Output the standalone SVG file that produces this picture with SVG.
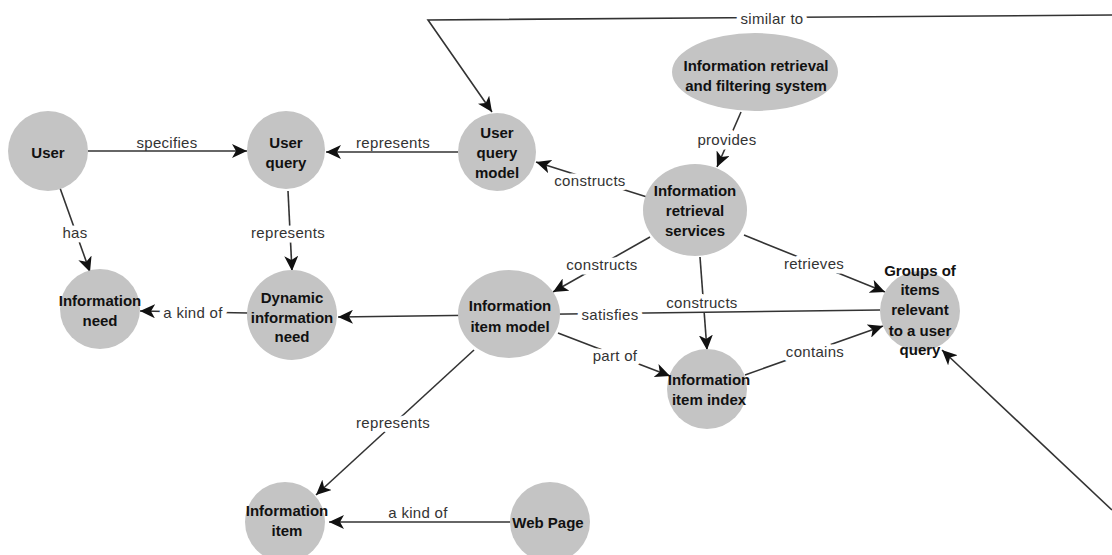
<svg xmlns="http://www.w3.org/2000/svg" width="1112" height="555" viewBox="0 0 1112 555">
<style>
.n{fill:#c4c4c4;stroke:none}
.t{font-family:"Liberation Sans",Arial,sans-serif;font-weight:bold;font-size:15px;fill:#111;text-anchor:middle;dominant-baseline:central}
.e{fill:none;stroke:#333;stroke-width:1.6}
.l{font-family:"Liberation Sans",Arial,sans-serif;font-size:15px;letter-spacing:0.3px;fill:#333;text-anchor:middle;dominant-baseline:central}
.h{stroke:#fff;stroke-width:9px;paint-order:stroke;stroke-linejoin:round}
</style>
<defs>
<marker id="a" markerUnits="userSpaceOnUse" markerWidth="16" markerHeight="14" viewBox="0 0 16 14" refX="15" refY="7" orient="auto">
<path d="M0,0 L15,7 L0,14 L4,7 z" fill="#111"/>
</marker>
</defs>
<rect width="1112" height="555" fill="#fff"/>
<g id="connectors">
<line class="e" x1="88" y1="151" x2="247" y2="151" marker-end="url(#a)"/>
<text class="l" x="167" y="142">specifies</text>
<line class="e" x1="60" y1="188" x2="90" y2="272" marker-end="url(#a)"/>
<text class="l h" x="75" y="232">has</text>
<line class="e" x1="458" y1="152" x2="326" y2="152" marker-end="url(#a)"/>
<text class="l" x="393" y="142">represents</text>
<line class="e" x1="288" y1="191" x2="292" y2="271" marker-end="url(#a)"/>
<text class="l h" x="288" y="232">represents</text>
<line class="e" x1="248" y1="313" x2="140" y2="311" marker-end="url(#a)"/>
<text class="l h" x="193" y="312">a kind of</text>
<polyline class="e" points="1112,15 428,20 492,112" marker-end="url(#a)"/>
<text class="l h" x="772" y="18">similar to</text>
<line class="e" x1="741" y1="112" x2="717" y2="167" marker-end="url(#a)"/>
<text class="l h" x="727" y="139">provides</text>
<line class="e" x1="647" y1="197" x2="536" y2="162" marker-end="url(#a)"/>
<text class="l h" x="590" y="180">constructs</text>
<line class="e" x1="700" y1="257" x2="707" y2="350" marker-end="url(#a)"/>
<text class="l h" x="702" y="302">constructs</text>
<line class="e" x1="880" y1="310" x2="338" y2="317" marker-end="url(#a)"/>
<text class="l h" x="610" y="314">satisfies</text>
<line class="e" x1="650" y1="237" x2="553" y2="292" marker-end="url(#a)"/>
<text class="l h" x="602" y="264">constructs</text>
<line class="e" x1="744" y1="235" x2="885" y2="292" marker-end="url(#a)"/>
<text class="l h" x="814" y="263">retrieves</text>
<line class="e" x1="558" y1="333" x2="670" y2="376" marker-end="url(#a)"/>
<text class="l h" x="615" y="355">part of</text>
<line class="e" x1="745" y1="375" x2="883" y2="326" marker-end="url(#a)"/>
<text class="l h" x="815" y="351">contains</text>
<line class="e" x1="474" y1="350" x2="316" y2="495" marker-end="url(#a)"/>
<text class="l h" x="393" y="422">represents</text>
<line class="e" x1="510" y1="522" x2="329" y2="522" marker-end="url(#a)"/>
<text class="l" x="418" y="512">a kind of</text>
<line class="e" x1="1112" y1="510" x2="942" y2="350" marker-end="url(#a)"/>
</g>
<g id="user"><circle class="n" cx="48" cy="151" r="40"/><text class="t" x="48" y="152">User</text></g>
<g id="user-query"><circle class="n" cx="286" cy="150" r="39"/><text class="t" x="286" y="142">User</text><text class="t" x="286" y="162">query</text></g>
<g id="user-query-model"><circle class="n" cx="497" cy="152" r="39"/><text class="t" x="497" y="132">User</text><text class="t" x="497" y="152">query</text><text class="t" x="497" y="172">model</text></g>
<g id="irf-system"><ellipse class="n" cx="755" cy="72" rx="83" ry="39"/><text class="t" x="756" y="65">Information retrieval</text><text class="t" x="756" y="85">and filtering system</text></g>
<g id="ir-services"><ellipse class="n" cx="695" cy="210" rx="52" ry="46"/><text class="t" x="695" y="190">Information</text><text class="t" x="695" y="210">retrieval</text><text class="t" x="695" y="230">services</text></g>
<g id="info-item-model"><ellipse class="n" cx="509" cy="314" rx="51" ry="44"/><text class="t" x="510" y="305">Information</text><text class="t" x="510" y="326">item model</text></g>
<g id="info-item-index"><circle class="n" cx="707" cy="389" r="40"/><text class="t" x="709" y="379">Information</text><text class="t" x="709" y="399">item index</text></g>
<g id="groups"><circle class="n" cx="920" cy="311" r="40"/><text class="t" x="920" y="270">Groups of</text><text class="t" x="920" y="289">items</text><text class="t" x="920" y="309">relevant</text><text class="t" x="920" y="330">to a user</text><text class="t" x="920" y="349">query</text></g>
<g id="info-need"><circle class="n" cx="100" cy="309" r="40"/><text class="t" x="100" y="300">Information</text><text class="t" x="100" y="320">need</text></g>
<g id="dynamic-info-need"><circle class="n" cx="292" cy="315" r="45"/><text class="t" x="292" y="297">Dynamic</text><text class="t" x="292" y="317">information</text><text class="t" x="292" y="336">need</text></g>
<g id="info-item"><circle class="n" cx="285" cy="522" r="40"/><text class="t" x="287" y="510">Information</text><text class="t" x="287" y="530">item</text></g>
<g id="web-page"><circle class="n" cx="550" cy="522" r="40"/><text class="t" x="548" y="522">Web Page</text></g>
</svg>
